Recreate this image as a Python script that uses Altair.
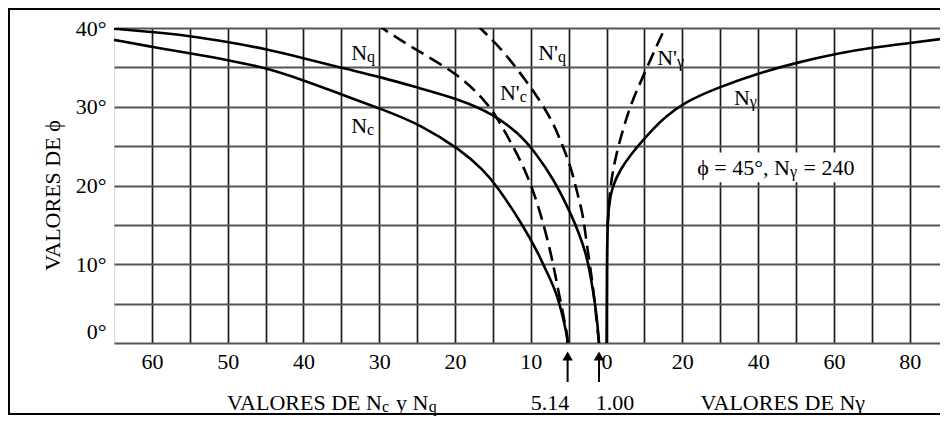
import altair as alt
import pandas as pd

# ---------------- data ----------------
# Left half: values of Nc, Nq, N'c, N'q  (axis runs 0 -> 65 towards the left)
PHI_NC = [0, 1.0, 6.3, 9.0, 11.4, 15.2, 20.0, 22.0, 24.5, 27.7, 29.6, 31.5, 33.4, 34.9, 35.9, 36.8, 37.6, 38.5]
VAL_NC = [5.14, 5.2, 6.5, 7.9, 9.0, 11.2, 14.5, 16.3, 19.2, 24.5, 29.4, 34.8, 40.1, 44.8, 49.8, 55.1, 60.0, 65.0]

PHI_NQ = [0, 3.6, 6.7, 11.4, 16.3, 21.0, 23.9, 26.5, 29.1, 30.9, 32.3, 33.7, 34.9, 36.2, 37.3, 38.2, 39.0, 39.5, 39.9]
VAL_NQ = [1.0, 1.3, 1.8, 2.6, 4.6, 7.1, 9.2, 11.4, 15.0, 19.3, 24.5, 29.5, 34.8, 40.1, 44.8, 49.8, 55.1, 60.0, 65.0]

PHI_NC2 = [0, 1.3, 6.7, 10.9, 16.9, 21.5, 25.1, 28.7, 30.5, 34.0, 37.3, 39.9, 40.4]
VAL_NC2 = [5.14, 5.2, 6.4, 7.2, 8.8, 10.5, 12.4, 14.5, 15.8, 19.3, 25.3, 29.5, 30.2]

PHI_NQ2 = [0, 4.6, 8.0, 12.4, 16.3, 18.8, 22.0, 25.1, 28.1, 31.4, 34.3, 37.6, 40.0, 40.5]
VAL_NQ2 = [1.0, 1.5, 1.9, 2.6, 3.1, 3.8, 4.6, 5.8, 7.1, 9.2, 11.4, 14.1, 16.7, 17.2]

# Right half: values of N-gamma (axis runs 0 -> 90 towards the right)
PHI_NG = [0, 5.5, 10.5, 14.7, 17.5, 19.7, 22.0, 24.3, 25.4, 27.3, 28.7, 30.6, 32.4, 34.4, 35.7, 36.8, 37.5, 38.1, 38.7]
VAL_NG = [0, 0.05, 0.1, 0.25, 0.6, 1.4, 3.5, 7.0, 9.0, 12.5, 15.5, 20.7, 29.1, 41.0, 51.0, 61.1, 70.1, 80.1, 89.8]

PHI_NG2 = [14.7, 20.1, 24.3, 27.0, 29.6, 32.1, 34.7, 37.8, 40.0, 40.8]
VAL_NG2 = [0.25, 0.9, 2.7, 4.3, 5.9, 8.0, 10.4, 13.3, 15.4, 16.2]

# curve labels: text, subscript, grid position (u) and phi of the text baseline
LBL_TEXT = ["N", "N", "N'", "N'", "N'", "N"]
LBL_SUB = ["q", "c", "c", "q", "\u03b3", "\u03b3"]
LBL_U = [-6.32, -6.32, -2.29, -1.28, 1.86, 3.78]
LBL_PHI = [35.9, 26.7, 30.9, 35.9, 35.3, 30.2]

NOTE_PHI = 45
NOTE_NG = 240
ARROW_VALUES = [5.14, 1.00]

# ---------------- build tables ----------------
LEFT_STEP = 5    # one grid cell = 5 units of Nc / Nq
RIGHT_STEP = 10  # one grid cell = 10 units of N-gamma


def curve(name, phis, vals, side):
    step = LEFT_STEP if side == "left" else RIGHT_STEP
    sign = -1 if side == "left" else 1
    return pd.DataFrame({
        "series": name,
        "phi": phis,
        "u": [sign * v / step for v in vals],
        "idx": list(range(len(phis))),
    })


solid = pd.concat([
    curve("Nc", PHI_NC, VAL_NC, "left"),
    curve("Nq", PHI_NQ, VAL_NQ, "left"),
    curve("Ng", PHI_NG, VAL_NG, "right"),
])
dashed = pd.concat([
    curve("Nc'", PHI_NC2, VAL_NC2, "left"),
    curve("Nq'", PHI_NQ2, VAL_NQ2, "left"),
    curve("Ng'", PHI_NG2, VAL_NG2, "right"),
])

labels = pd.DataFrame({"u": LBL_U, "phi": LBL_PHI, "t": LBL_TEXT, "s": LBL_SUB})

FONT = "Liberation Serif"
FS = 22
FS_SUB = 16
SUB_DY = 2

xscale = alt.Scale(domain=[-13, 8.8], nice=False, zero=False)
yscale = alt.Scale(domain=[0, 40], nice=False)

xaxis = alt.Axis(
    title=None,
    values=list(range(-12, 9)),
    labelExpr="datum.value % 2 != 0 ? '' : (datum.value < 0 ? format(-datum.value*5, 'd') : format(datum.value*10, 'd'))",
    labelFont=FONT, labelFontSize=FS, labelColor="black", labelPadding=8,
    labelOverlap=False, labelFlush=False,
    ticks=False, domain=False,
    grid=True, gridColor="#1a1a1a", gridWidth=1.7, gridOpacity=1,
)
yaxis = alt.Axis(
    title="VALORES DE \u03d5",
    titleFont=FONT, titleFontSize=FS, titleFontWeight="normal", titleColor="black",
    titleAngle=-90, titleX=-62, titleY=167, titleAlign="center", titleBaseline="middle",
    values=list(range(0, 41, 5)),
    labelExpr="datum.value % 10 == 0 ? datum.value + '\u00b0' : ''",
    labelBaseline={"expr": "datum.value == 0 ? 'bottom' : 'middle'"},
    labelFont=FONT, labelFontSize=FS, labelColor="black", labelPadding=8,
    ticks=False, domain=False,
    grid=True, gridColor="#555555", gridWidth=2, gridOpacity=1,
)

X = alt.X("u:Q", scale=xscale, axis=xaxis)
Y = alt.Y("phi:Q", scale=yscale, axis=yaxis)

# outer frame (decoration)
frame = alt.Chart(pd.DataFrame({"k": [0]})).mark_rect(
    fillOpacity=0, stroke="black", strokeWidth=2
).encode(x=alt.value(-105), x2=alt.value(840), y=alt.value(-19), y2=alt.value(386))

# white box behind the note
note_box = alt.Chart(pd.DataFrame({"u": [2.15], "u2": [6.85], "phi": [20.4], "phi2": [24.2]})).mark_rect(
    fill="white"
).encode(x=X, x2="u2:Q", y=Y, y2="phi2:Q")

solid_lines = alt.Chart(solid).mark_line(
    color="black", strokeWidth=2.6, interpolate="basis", clip=True
).encode(x=X, y=Y, detail="series:N", order="idx:Q")

dashed_lines = alt.Chart(dashed).mark_line(
    color="black", strokeWidth=2.6, strokeDash=[14, 7], interpolate="basis", clip=True
).encode(x=X, y=Y, detail="series:N", order="idx:Q")

lbl_main = alt.Chart(labels).mark_text(
    font=FONT, fontSize=FS, align="right", baseline="alphabetic", color="black"
).encode(x=X, y=Y, text="t:N")
lbl_sub = alt.Chart(labels).mark_text(
    font=FONT, fontSize=FS_SUB, align="left", baseline="alphabetic", dy=SUB_DY, color="black"
).encode(x=X, y=Y, text="s:N")

note_df = pd.DataFrame({
    "u": [4.84, 4.84, 5.2],
    "phi": [21.3, 21.3, 21.3],
    "t": [f"\u03d5 = {NOTE_PHI}\u00b0, N", "\u03b3", f"= {NOTE_NG}"],
    "a": ["main", "sub", "tail"],
})
note_main = alt.Chart(note_df[note_df.a == "main"]).mark_text(
    font=FONT, fontSize=FS, align="right", baseline="alphabetic", color="black"
).encode(x=X, y=Y, text="t:N")
note_sub = alt.Chart(note_df[note_df.a == "sub"]).mark_text(
    font=FONT, fontSize=FS_SUB, align="left", baseline="alphabetic", dy=SUB_DY, color="black"
).encode(x=X, y=Y, text="t:N")
note_tail = alt.Chart(note_df[note_df.a == "tail"]).mark_text(
    font=FONT, fontSize=FS, align="left", baseline="alphabetic", color="black"
).encode(x=X, y=Y, text="t:N")

# x-axis titles (with subscripts) below the plot
TITLE_Y = 382
xt_main = alt.Chart(pd.DataFrame({"u": [-5.93, -5.56, -1.49, 0.22, 4.65],
                                  "t": ["VALORES DE N", "y N", f"{ARROW_VALUES[0]:.2f}",
                                        f"{ARROW_VALUES[1]:.2f}", "VALORES DE N\u03b3"],
                                  "al": ["right", "left", "center", "center", "center"]}))
xt_r = xt_main.transform_filter("datum.al == 'right'").mark_text(
    font=FONT, fontSize=FS, align="right", baseline="alphabetic", color="black"
).encode(x=X, y=alt.value(TITLE_Y), text="t:N")
xt_l = xt_main.transform_filter("datum.al == 'left'").mark_text(
    font=FONT, fontSize=FS, align="left", baseline="alphabetic", color="black"
).encode(x=X, y=alt.value(TITLE_Y), text="t:N")
xt_c = xt_main.transform_filter("datum.al == 'center'").mark_text(
    font=FONT, fontSize=FS, align="center", baseline="alphabetic", color="black"
).encode(x=X, y=alt.value(TITLE_Y), text="t:N")
xt_sub = alt.Chart(pd.DataFrame({"u": [-5.93, -4.69], "t": ["c", "q"]})).mark_text(
    font=FONT, fontSize=FS_SUB, align="left", baseline="alphabetic", dy=SUB_DY, color="black"
).encode(x=X, y=alt.value(TITLE_Y), text="t:N")

# arrows pointing at 5.14 and 1.00
arrows_df = pd.DataFrame({"u": [-v / LEFT_STEP for v in ARROW_VALUES]})
arrow_shaft = alt.Chart(arrows_df).mark_rule(color="black", strokeWidth=2).encode(
    x=X, y=alt.value(330), y2=alt.value(354))
arrow_head = alt.Chart(arrows_df).mark_point(
    shape="triangle-up", filled=True, color="black", size=110, opacity=1
).encode(x=X, y=alt.value(328))

chart = alt.layer(
    frame, note_box, solid_lines, dashed_lines,
    lbl_main, lbl_sub, note_main, note_sub, note_tail,
    xt_r, xt_l, xt_c, xt_sub, arrow_shaft, arrow_head,
).properties(
    width=826, height=315,
    autosize=alt.AutoSizeParams(type="none"),
    padding={"left": 106, "top": 20, "right": 0, "bottom": 73},
).configure_view(
    stroke="black", strokeWidth=2.6
).configure(background="white")

chart.save("out.html", embed_options={"renderer": "svg", "actions": False})
